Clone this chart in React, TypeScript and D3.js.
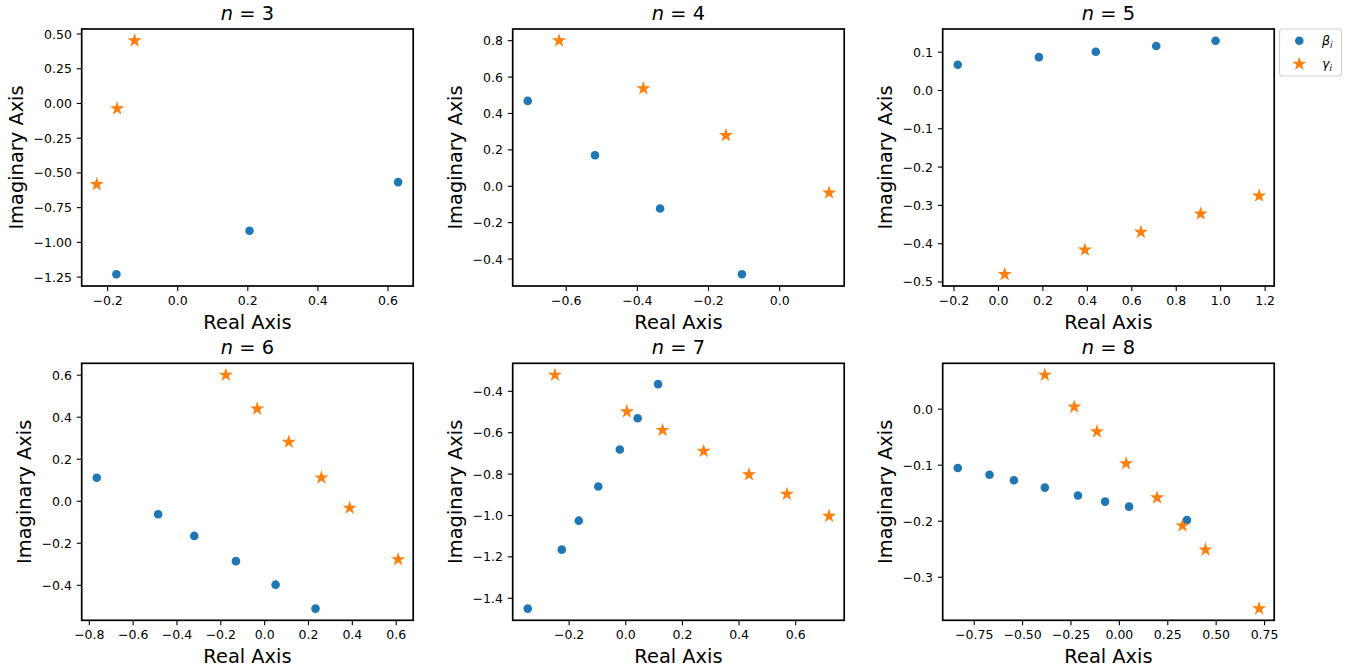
import React from 'react';
import * as d3 from 'd3';

// panel titles (n values)
const nValues = [3, 4, 5, 6, 7, 8];

// beta_i (blue dots): real / imaginary parts per panel
const betaRe = [
  [0.629, 0.205, -0.175],
  [-0.708, -0.519, -0.336, -0.106],
  [-0.183, 0.182, 0.438, 0.710, 0.977],
  [-0.766, -0.486, -0.321, -0.131, 0.050, 0.232],
  [0.114, 0.042, -0.021, -0.097, -0.166, -0.226, -0.346],
  [-0.835, -0.671, -0.545, -0.385, -0.214, -0.074, 0.050, 0.349],
];
const betaIm = [
  [-0.566, -0.916, -1.230],
  [0.469, 0.170, -0.122, -0.484],
  [0.067, 0.087, 0.101, 0.116, 0.130],
  [0.112, -0.062, -0.165, -0.285, -0.397, -0.511],
  [-0.365, -0.530, -0.681, -0.860, -1.025, -1.165, -1.450],
  [-0.105, -0.117, -0.127, -0.140, -0.154, -0.165, -0.174, -0.198],
];

// gamma_i (orange stars)
const gammaRe = [
  [-0.123, -0.173, -0.231],
  [-0.620, -0.383, -0.151, 0.139],
  [0.028, 0.389, 0.641, 0.910, 1.173],
  [-0.177, -0.034, 0.110, 0.259, 0.388, 0.609],
  [-0.250, 0.004, 0.130, 0.275, 0.435, 0.569, 0.718],
  [-0.385, -0.233, -0.116, 0.035, 0.195, 0.326, 0.445, 0.722],
];
const gammaIm = [
  [0.452, -0.037, -0.582],
  [0.800, 0.537, 0.280, -0.036],
  [-0.480, -0.416, -0.370, -0.322, -0.275],
  [0.601, 0.440, 0.282, 0.112, -0.032, -0.277],
  [-0.321, -0.498, -0.588, -0.689, -0.802, -0.897, -1.003],
  [0.061, 0.004, -0.040, -0.097, -0.158, -0.208, -0.251, -0.356],
];

// tick values + decimals
const xTicks = [
  [-0.2, 0.0, 0.2, 0.4, 0.6],
  [-0.6, -0.4, -0.2, 0.0],
  [-0.2, 0.0, 0.2, 0.4, 0.6, 0.8, 1.0, 1.2],
  [-0.8, -0.6, -0.4, -0.2, 0.0, 0.2, 0.4, 0.6],
  [-0.2, 0.0, 0.2, 0.4, 0.6],
  [-0.75, -0.5, -0.25, 0.0, 0.25, 0.5, 0.75],
];
const xDecimals = [1, 1, 1, 1, 1, 2];
const yTicks = [
  [0.5, 0.25, 0.0, -0.25, -0.5, -0.75, -1.0, -1.25],
  [0.8, 0.6, 0.4, 0.2, 0.0, -0.2, -0.4],
  [0.1, 0.0, -0.1, -0.2, -0.3, -0.4, -0.5],
  [0.6, 0.4, 0.2, 0.0, -0.2, -0.4],
  [-0.4, -0.6, -0.8, -1.0, -1.2, -1.4],
  [0.0, -0.1, -0.2, -0.3],
];
const yDecimals = [2, 1, 1, 1, 1, 1];

const BLUE = '#1f77b4';
const ORANGE = '#ff7f0e';
const FONT = '"DejaVu Sans", sans-serif';
const TICK_FS = 12.5;
const LABEL_FS = 19.4;

const colLefts = [81.7, 512.7, 942.7];
const rowTops = [29, 363.3];
const AW = 331.5;
const AH = 257;
const TICK_LEN = 4.9;
const TICK_PAD = 4.9;

const fmt = (v: number, d: number) => d3.format(`.${d}f`)(v).replace('-', '\u2212');

// rough DejaVu Sans widths for tick labels
const charW: Record<string, number> = { '.': 0.318, '\u2212': 0.838 };
const textWidth = (s: string, fs: number) =>
  s.split('').reduce((a, c) => a + (charW[c] ?? 0.636), 0) * fs;

const starPath = (R: number) => {
  const r = R * 0.381966;
  const pts: [number, number][] = [];
  for (let k = 0; k < 10; k++) {
    const ang = -Math.PI / 2 + (k * Math.PI) / 5;
    const rad = k % 2 === 0 ? R : r;
    pts.push([rad * Math.cos(ang), rad * Math.sin(ang)]);
  }
  return d3.line()(pts) + 'Z';
};
const STAR = starPath(7.5);

const padExtent = (vals: number[]) => {
  const [lo, hi] = d3.extent(vals) as [number, number];
  const m = (hi - lo) * 0.05;
  return [lo - m, hi + m];
};

const Panel = ({ i }: { i: number }) => {
  const left = colLefts[i % 3];
  const top = rowTops[Math.floor(i / 3)];
  const x = d3.scaleLinear()
    .domain(padExtent([...betaRe[i], ...gammaRe[i]]))
    .range([left, left + AW]);
  const y = d3.scaleLinear()
    .domain(padExtent([...betaIm[i], ...gammaIm[i]]))
    .range([top + AH, top]);
  const bottom = top + AH;
  const yLabels = yTicks[i].map(v => fmt(v, yDecimals[i]));
  const maxW = d3.max(yLabels, s => textWidth(s, TICK_FS)) as number;
  const yLabelX = left - TICK_LEN - TICK_PAD - maxW - 5.6 - 4.6;

  return (
    <g>
      {/* x ticks */}
      {xTicks[i].map(v => (
        <g key={'x' + v} transform={`translate(${x(v)},${bottom})`}>
          <line y2={TICK_LEN} stroke="#000" strokeWidth={1.1} />
          <text y={TICK_LEN + TICK_PAD + 9.2} textAnchor="middle" fontSize={TICK_FS}>
            {fmt(v, xDecimals[i])}
          </text>
        </g>
      ))}
      {/* y ticks */}
      {yTicks[i].map((v, k) => (
        <g key={'y' + v} transform={`translate(${left},${y(v)})`}>
          <line x2={-TICK_LEN} stroke="#000" strokeWidth={1.1} />
          <text x={-TICK_LEN - TICK_PAD} dy="0.36em" textAnchor="end" fontSize={TICK_FS}>
            {yLabels[k]}
          </text>
        </g>
      ))}
      {/* points */}
      {betaRe[i].map((re, k) => (
        <circle key={'b' + k} cx={x(re)} cy={y(betaIm[i][k])} r={4.3} fill={BLUE} />
      ))}
      {gammaRe[i].map((re, k) => (
        <path key={'g' + k} d={STAR} transform={`translate(${x(re)},${y(gammaIm[i][k])})`} fill={ORANGE} />
      ))}
      {/* frame */}
      <rect x={left} y={top} width={AW} height={AH} fill="none" stroke="#000" strokeWidth={1.7} />
      {/* title */}
      <text x={left + AW / 2} y={top - 9} textAnchor="middle" fontSize={LABEL_FS}>
        <tspan fontStyle="italic">n</tspan> = {nValues[i]}
      </text>
      {/* axis labels */}
      <text x={left + AW / 2} y={bottom + 42.5} textAnchor="middle" fontSize={LABEL_FS}>
        Real Axis
      </text>
      <text
        transform={`translate(${yLabelX},${top + AH / 2}) rotate(-90)`}
        textAnchor="middle"
        fontSize={LABEL_FS}
      >
        Imaginary Axis
      </text>
    </g>
  );
};

const Legend = () => {
  const lx = 1279.5;
  const ly = 29;
  return (
    <g>
      <rect x={lx} y={ly} width={62} height={47} rx={3} fill="#fff" fillOpacity={0.8} stroke="#d0d0d0" strokeWidth={1.1} />
      <circle cx={1299.3} cy={40.8} r={4.3} fill={BLUE} />
      <path d={STAR} transform="translate(1299.3,64)" fill={ORANGE} />
      <text x={1322} y={45.3} fontSize={TICK_FS} fontStyle="italic">
        β<tspan fontSize={8.8} dy={3}>i</tspan>
      </text>
      <text x={1322} y={67.8} fontSize={TICK_FS} fontStyle="italic">
        γ<tspan fontSize={8.8} dy={3}>i</tspan>
      </text>
    </g>
  );
};

export default function App() {
  return (
    <div style={{ position: 'absolute', left: 0, top: 0 }}>
      <svg width={1348} height={670} style={{ display: 'block', background: '#fff' }} fontFamily={FONT}>
        {nValues.map((_, i) => (
          <Panel key={i} i={i} />
        ))}
        <Legend />
      </svg>
    </div>
  );
}
